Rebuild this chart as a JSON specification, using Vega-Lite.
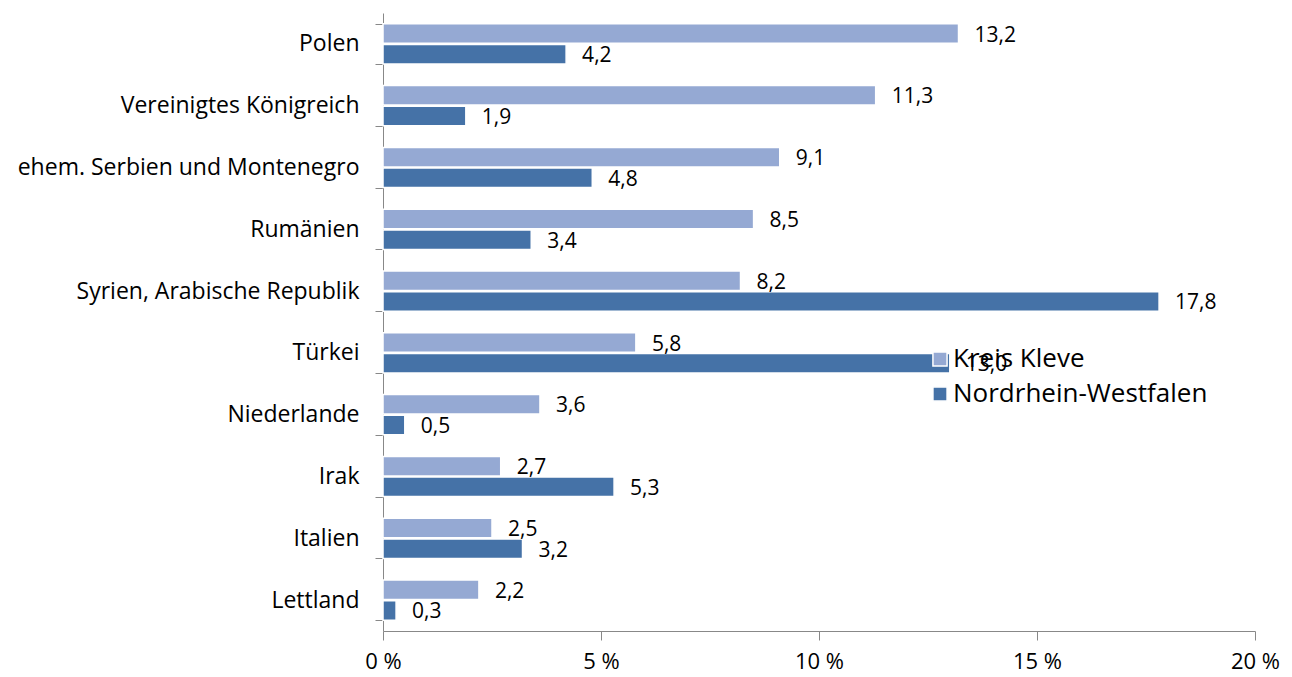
{
  "$schema": "https://vega.github.io/schema/vega-lite/v6.json",
  "width": 872,
  "height": 618,
  "autosize": "none",
  "padding": {"left": 383, "top": 13, "right": 37, "bottom": 46},
  "background": "white",
  "data": {
    "values": [
      {"land": "Polen", "serie": "Kreis Kleve", "wert": 13.2},
      {"land": "Polen", "serie": "Nordrhein-Westfalen", "wert": 4.2},
      {"land": "Vereinigtes Königreich", "serie": "Kreis Kleve", "wert": 11.3},
      {"land": "Vereinigtes Königreich", "serie": "Nordrhein-Westfalen", "wert": 1.9},
      {"land": "ehem. Serbien und Montenegro", "serie": "Kreis Kleve", "wert": 9.1},
      {"land": "ehem. Serbien und Montenegro", "serie": "Nordrhein-Westfalen", "wert": 4.8},
      {"land": "Rumänien", "serie": "Kreis Kleve", "wert": 8.5},
      {"land": "Rumänien", "serie": "Nordrhein-Westfalen", "wert": 3.4},
      {"land": "Syrien, Arabische Republik", "serie": "Kreis Kleve", "wert": 8.2},
      {"land": "Syrien, Arabische Republik", "serie": "Nordrhein-Westfalen", "wert": 17.8},
      {"land": "Türkei", "serie": "Kreis Kleve", "wert": 5.8},
      {"land": "Türkei", "serie": "Nordrhein-Westfalen", "wert": 13.0},
      {"land": "Niederlande", "serie": "Kreis Kleve", "wert": 3.6},
      {"land": "Niederlande", "serie": "Nordrhein-Westfalen", "wert": 0.5},
      {"land": "Irak", "serie": "Kreis Kleve", "wert": 2.7},
      {"land": "Irak", "serie": "Nordrhein-Westfalen", "wert": 5.3},
      {"land": "Italien", "serie": "Kreis Kleve", "wert": 2.5},
      {"land": "Italien", "serie": "Nordrhein-Westfalen", "wert": 3.2},
      {"land": "Lettland", "serie": "Kreis Kleve", "wert": 2.2},
      {"land": "Lettland", "serie": "Nordrhein-Westfalen", "wert": 0.3}
    ]
  },
  "encoding": {
    "y": {
      "field": "land",
      "type": "nominal",
      "sort": null,
      "scale": {"paddingInner": 0.35, "paddingOuter": 0.175},
      "axis": {
        "title": null,
        "domainColor": "#888888",
        "tickColor": "#888888",
        "tickBand": "extent",
        "tickSize": 8,
        "labelFontSize": 23,
        "labelFont": "Open Sans",
        "labelColor": "#000000",
        "labelPadding": 16,
        "labelLimit": 0
      }
    },
    "yOffset": {
      "field": "serie",
      "type": "nominal",
      "sort": ["Kreis Kleve", "Nordrhein-Westfalen"],
      "scale": {"paddingInner": 0.06}
    },
    "x": {
      "field": "wert",
      "type": "quantitative",
      "scale": {"domain": [0, 20], "nice": false},
      "axis": {
        "title": null,
        "values": [0, 5, 10, 15, 20],
        "grid": false,
        "labelExpr": "datum.value + ' %'",
        "domainColor": "#888888",
        "tickColor": "#888888",
        "tickSize": 9,
        "labelFontSize": 22,
        "labelFont": "Open Sans",
        "labelColor": "#000000",
        "labelPadding": 11,
        "labelFlush": false
      }
    }
  },
  "layer": [
    {
      "mark": {"type": "bar", "stroke": "white", "strokeWidth": 1.5},
      "encoding": {
        "color": {
          "field": "serie",
          "type": "nominal",
          "scale": {"domain": ["Kreis Kleve", "Nordrhein-Westfalen"], "range": ["#95a9d3", "#4572a7"]},
          "legend": {
            "title": null,
            "orient": "none",
            "legendX": 544,
            "legendY": 333,
            "symbolType": "square",
            "symbolSize": 200,
            "symbolStrokeColor": "white",
            "labelFontSize": 26,
            "labelFont": "Open Sans",
            "labelColor": "#000000",
            "labelLimit": 0,
            "rowPadding": 9,
            "labelOffset": 0
          }
        }
      }
    },
    {
      "mark": {"type": "text", "align": "left", "baseline": "middle", "dx": 16, "dy": 2, "fontSize": 21, "font": "Open Sans", "color": "#000000"},
      "encoding": {
        "text": {"field": "wert", "type": "quantitative", "format": ".1f"}
      }
    }
  ],
  "config": {
    "view": {"stroke": null},
    "locale": {
      "number": {"decimal": ",", "thousands": ".", "grouping": [3], "currency": ["", " €"]}
    }
  }
}
